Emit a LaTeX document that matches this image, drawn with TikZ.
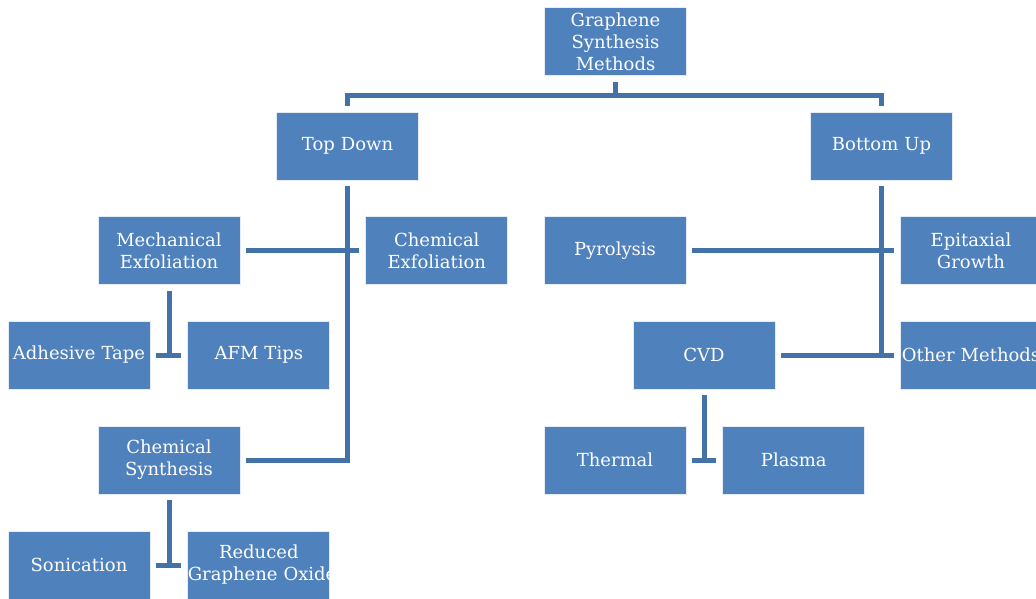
\documentclass[tikz,border=0pt]{standalone}
\usepackage{fontspec}
\setmainfont{DejaVu Serif}
\definecolor{cBox}{HTML}{4F81BD}
\definecolor{cLine}{HTML}{4372A9}
\usepackage{tikz}
\usetikzlibrary{positioning,calc}

\begin{document}
\begin{tikzpicture}[x=1pt,y=-1pt,
      box/.style={draw=white!85!cBox,line width=.8pt,fill=cBox,text=white,
                  text width=142pt,minimum height=68pt,inner sep=0pt,align=center,
                  font=\fontsize{18}{22}\selectfont},
      ln/.style={draw=cLine,line width=5pt}]
    \useasboundingbox (0,0) rectangle (1036,599);
    % top levels
    \node[box] (root) at (615.5,41.5) {Graphene\\Synthesis\\Methods};
    \node[box] (td) at (347.5,146) {Top Down};
    \node[box] (bu) at (881.5,146) {Bottom Up};
    % top down branch
    \node[box] (me) at (169,250.5) {Mechanical\\Exfoliation};
    \node[box,right=125pt of me] (ce) {Chemical\\Exfoliation};
    \node[box] (at) at (79,355) {Adhesive Tape};
    \node[box,right=37pt of at] (afm) {AFM Tips};
    \node[box] (cs) at (169,460) {Chemical\\Synthesis};
    \node[box] (so) at (79,565) {Sonication};
    \node[box,right=37pt of so] (rgo) {Reduced\\\mbox{Graphene Oxide}};
    % bottom up branch
    \node[box] (py) at (615,250.5) {Pyrolysis};
    \node[box] (eg) at (971,250.5) {Epitaxial\\Growth};
    \node[box] (cvd) at (704,355) {CVD};
    \node[box] (om) at (971,355) {Other Methods};
    \node[box] (th) at (615,460) {Thermal};
    \node[box,right=36pt of th] (pl) {Plasma};
    % connectors
    \coordinate (rj) at ($(root.south)+(0,20)$);
    \draw[ln] ([yshift=-6pt]root.south) -- (rj);
    \draw[ln] ([yshift=6pt]td.north) |- (rj) -| ([yshift=6pt]bu.north);
    \draw[ln] ([yshift=-6pt]td.south) |- ([xshift=6pt]cs.east);
    \draw[ln] ([xshift=6pt]me.east) -- ([xshift=-6pt]ce.west);
    \draw[ln] ([yshift=-6pt]me.south) -- (me.south |- at.east);
    \draw[ln] ([xshift=6pt]at.east) -- ([xshift=-6pt]afm.west);
    \draw[ln] ([yshift=-6pt]cs.south) -- (cs.south |- so.east);
    \draw[ln] ([xshift=6pt]so.east) -- ([xshift=-6pt]rgo.west);
    \draw[ln] ([yshift=-6pt]bu.south) -- (bu.south |- om.west);
    \draw[ln] ([xshift=6pt]py.east) -- ([xshift=-6pt]eg.west);
    \draw[ln] ([xshift=6pt]cvd.east) -- ([xshift=-6pt]om.west);
    \draw[ln] ([yshift=-6pt]cvd.south) -- (cvd.south |- th.east);
    \draw[ln] ([xshift=6pt]th.east) -- ([xshift=-6pt]pl.west);
\end{tikzpicture}
\end{document}
